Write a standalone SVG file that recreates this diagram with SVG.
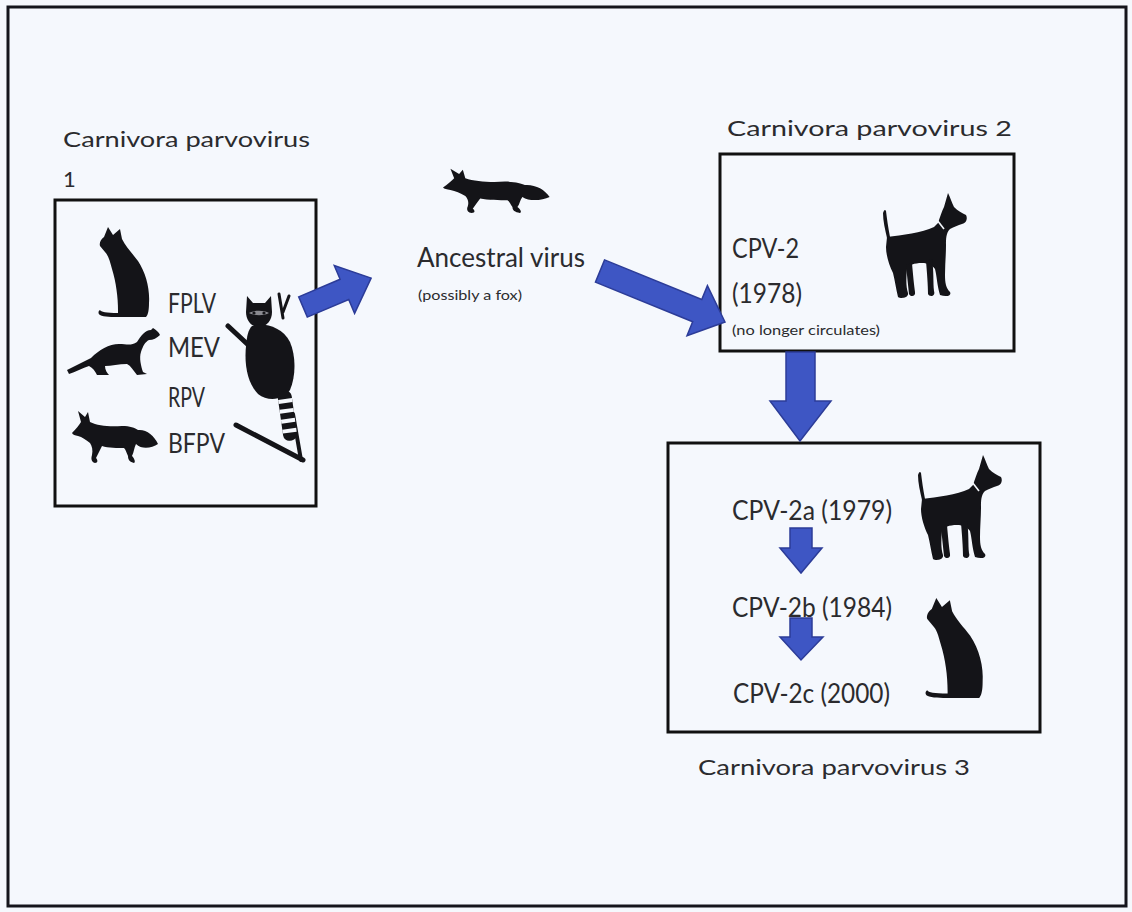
<svg xmlns="http://www.w3.org/2000/svg" width="1132" height="912" viewBox="0 0 1132 912">
  <style>
    .frame { fill: none; stroke: #15151c; stroke-width: 3; }
    .box { fill: none; stroke: #111111; stroke-width: 3; }
    .lbl { font-family: Lato, "Open Sans", "Liberation Sans", sans-serif; fill: #2b2b2e; }
    .title { font-size: 22px; }
    .big { font-size: 27px; }
    .mid { font-size: 26px; }
    .small { font-size: 14px; }
    .sil { fill: #141418; }
    .arrow { fill: #3e56c4; stroke: #2c3c98; stroke-width: 1.5; stroke-linejoin: miter; }
    .twig { stroke: #141418; stroke-linecap: round; fill: none; }
  </style>
  <defs>
    <!-- sitting cat, facing left -->
    <path id="cat" d="M10,0 L15,8 L22,2 L24,12 C28,20 34,26 40,34 C48,46 52,62 51,76 C51,83 50,88 48,90 L22,90 C14,90 6,90 2,88 C0,87 0,84 2,83 C3,85 8,86 20,86 L20,84 C20,70 18,55 14,42 C12,34 10,28 7,25 L2,19 C1,16 3,12 6,10 Z"/>
    <!-- standing dog, facing right -->
    <g id="dog">
      <path d="M1,20 C2,17 3,16 4,18 C5,26 6,34 8,44 L5,45 C3,36 1,28 1,20 Z"/>
      <path d="M5,44 C20,42 40,40 52,34 L56,30 C58,24 60,18 62,14 L66,0 C68,4 70,10 72,14 C76,18 80,20 84,22 C86,26 84,30 80,31 C76,32 72,34 68,36 C64,40 64,46 64,52 C64,62 63,72 63,82 C63,90 64,95 68,99 C70,103 64,104 58,102 C55,92 55,84 53,76 C50,72 46,70 40,70 C32,70 27,72 25,76 C24,86 24,94 26,100 C27,105 19,106 16,104 C14,96 13,88 11,80 C7,72 4,62 4,54 Z"/>
      <path d="M50,66 C52,78 51,90 52,98 C54,104 47,104 46,101 C46,92 45,80 44,68 Z"/>
      <path d="M30,70 C31,82 32,92 33,99 C34,104 28,104 27,101 C26,92 25,82 24,72 Z"/>
      <path d="M55,27 L62,36" stroke="#f5f8fd" stroke-width="1.6" fill="none"/>
    </g>
    <!-- fox, facing left -->
    <path id="fox" d="M0,23 C4,19 7,15 9,12 L6,1 L13,7 L16,2 L18,12 C26,16 38,17 50,16 C58,16 63,18 66,20 C74,19 82,25 86,34 C80,38 70,40 64,34 C62,38 62,42 60,46 C62,48 64,52 62,53 C58,52 56,50 56,46 C54,42 54,40 52,38 C46,38 36,38 30,36 C28,40 26,44 24,48 C26,50 26,53 23,53 C19,52 19,48 20,45 C21,40 20,36 18,33 C14,30 10,27 6,26 C3,25 1,25 0,23 Z"/>
    <!-- ferret, facing right -->
    <path id="ferret" d="M0,42 C8,38 16,34 24,30 C32,22 42,16 52,16 C60,16 64,18 70,14 C74,8 78,2 84,2 L86,0 C89,2 92,4 93,7 C90,10 86,12 82,12 C78,14 76,18 74,24 C72,30 74,38 76,44 L80,46 L70,47 C66,42 64,38 60,36 C52,36 44,38 38,38 C38,42 40,45 42,47 L30,47 C28,43 26,40 22,38 C16,40 8,44 2,46 Z"/>
  </defs>

  <rect x="0" y="0" width="1132" height="912" fill="#f5f8fd"/>
  <rect class="frame" x="8" y="7" width="1118" height="899"/>

  <!-- group 1: Carnivora parvovirus 1 -->
  <g id="cpv1">
    <text class="lbl title" x="63" y="147" textLength="247" lengthAdjust="spacingAndGlyphs">Carnivora parvovirus</text>
    <text class="lbl title" x="63" y="187">1</text>
    <rect class="box" x="55" y="200" width="261" height="306"/>
    <use href="#cat" class="sil" transform="translate(98,227)"/>
    <use href="#ferret" class="sil" transform="translate(67,328)"/>
    <use href="#fox" class="sil" transform="translate(72,410)"/>
    <!-- raccoon on a branch -->
    <g id="raccoon">
      <line class="twig" x1="228" y1="326" x2="258" y2="354" stroke-width="5"/>
      <line class="twig" x1="283" y1="318" x2="279" y2="294" stroke-width="3"/>
      <line class="twig" x1="283" y1="312" x2="289" y2="296" stroke-width="3"/>
      <line class="twig" x1="236" y1="425" x2="303" y2="460" stroke-width="5"/>
      <line class="twig" x1="293" y1="414" x2="301" y2="460" stroke-width="4"/>
      <path class="sil" d="M247,296 L253,303 L265,303 L271,296 L272,312 C272,320 267,327 259,327 C251,327 246,320 246,312 Z"/>
      <path d="M249,313 C254,310 264,310 269,313 C264,316 254,316 249,313 Z" fill="#8a8a90"/>
      <circle cx="254" cy="313" r="1.6" fill="#141418"/>
      <circle cx="264" cy="313" r="1.6" fill="#141418"/>
      <path class="sil" d="M252,326 C262,322 282,326 290,342 C296,356 296,376 290,390 C284,400 268,402 258,394 C248,384 244,366 246,346 C247,336 248,330 252,326 Z"/>
      <g transform="translate(277,392) rotate(-8)">
        <rect x="0" y="0" width="14" height="50" rx="6" fill="#141418"/>
        <rect x="0" y="8" width="14" height="4" fill="#f5f8fd"/>
        <rect x="0" y="18" width="14" height="4" fill="#f5f8fd"/>
        <rect x="0" y="28" width="14" height="4" fill="#f5f8fd"/>
        <rect x="0" y="38" width="14" height="4" fill="#f5f8fd"/>
      </g>
    </g>
    <text class="lbl mid" x="168" y="313" textLength="48" lengthAdjust="spacingAndGlyphs">FPLV</text>
    <text class="lbl mid" x="168" y="357" textLength="52" lengthAdjust="spacingAndGlyphs">MEV</text>
    <text class="lbl mid" x="168" y="407" textLength="37" lengthAdjust="spacingAndGlyphs">RPV</text>
    <text class="lbl mid" x="168" y="453" textLength="57" lengthAdjust="spacingAndGlyphs">BFPV</text>
  </g>

  <!-- ancestral virus -->
  <g id="ancestral">
    <use href="#fox" class="sil" transform="translate(443,168) scale(1.24,0.85)"/>
    <text class="lbl mid" x="417" y="267" textLength="168" lengthAdjust="spacingAndGlyphs">Ancestral virus</text>
    <text class="lbl small" x="418" y="300" textLength="104" lengthAdjust="spacingAndGlyphs">(possibly a fox)</text>
  </g>

  <!-- group 2: Carnivora parvovirus 2 -->
  <g id="cpv2">
    <text class="lbl title" x="727" y="136" textLength="285" lengthAdjust="spacingAndGlyphs">Carnivora parvovirus 2</text>
    <rect class="box" x="720" y="154" width="294" height="197"/>
    <text class="lbl big" x="732" y="258" textLength="67" lengthAdjust="spacingAndGlyphs">CPV-2</text>
    <text class="lbl big" x="732" y="303" textLength="70" lengthAdjust="spacingAndGlyphs">(1978)</text>
    <text class="lbl small" x="732" y="335" font-size="15" textLength="148" lengthAdjust="spacingAndGlyphs">(no longer circulates)</text>
    <use href="#dog" class="sil" transform="translate(882,193)"/>
  </g>

  <!-- group 3: Carnivora parvovirus 3 -->
  <g id="cpv3">
    <rect class="box" x="668" y="443" width="372" height="289"/>
    <text class="lbl big" x="732" y="520" textLength="160" lengthAdjust="spacingAndGlyphs">CPV-2a (1979)</text>
    <text class="lbl big" x="732" y="617" textLength="160" lengthAdjust="spacingAndGlyphs">CPV-2b (1984)</text>
    <text class="lbl big" x="733" y="703" textLength="157" lengthAdjust="spacingAndGlyphs">CPV-2c (2000)</text>
    <use href="#dog" class="sil" transform="translate(917,455)"/>
    <use href="#cat" class="sil" transform="translate(925,598) scale(1.13,1.11)"/>
    <text class="lbl title" x="698" y="775" textLength="272" lengthAdjust="spacingAndGlyphs">Carnivora parvovirus 3</text>
  </g>

  <!-- connectors -->
  <g id="connectors">
    <polygon class="arrow" points="0,-11 45,-11 45,-26 74,0 45,26 45,11 0,11" transform="translate(303,307) rotate(-23)"/>
    <polygon class="arrow" points="0,-12 105,-12 105,-27 135,0 105,27 105,12 0,12" transform="translate(600,271) rotate(22.2)"/>
    <polygon class="arrow" points="786,352 815,352 815,401 831,401 800,441 770,401 786,401"/>
    <polygon class="arrow" points="790,528 812,528 812,548 822,548 801,573 780,548 790,548"/>
    <polygon class="arrow" points="790,618 812,618 812,637 823,637 801,660 780,637 790,637"/>
  </g>
</svg>
